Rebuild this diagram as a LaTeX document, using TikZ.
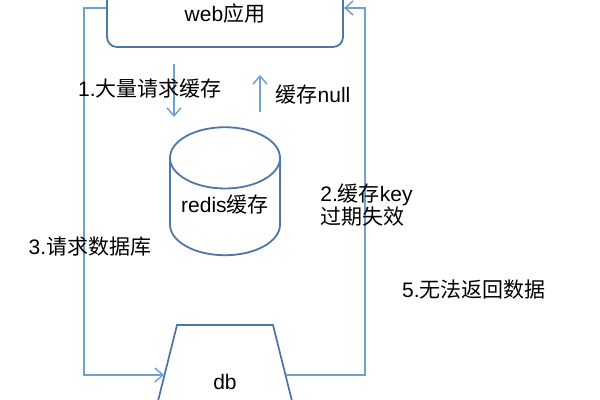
\documentclass[tikz,border=0pt]{standalone}
\usepackage{fontspec}
\setmainfont{Liberation Sans}
\newfontfamily\cjk{Noto Sans CJK SC}
\usetikzlibrary{shapes.geometric,arrows.meta}
\definecolor{linkBlue}{RGB}{112,160,206}
\definecolor{shapeBlue}{RGB}{78,118,168}
\newcommand{\zh}[1]{{\cjk #1}}

\begin{document}
\begin{tikzpicture}[x=0.5pt,y=-0.5pt,
        lbl/.style={font=\fontsize{10.5}{11.5}\selectfont, inner sep=0pt},
        app/.style={draw=shapeBlue, line width=0.9pt, rounded corners=5pt,
                    minimum width=118pt, minimum height=33.5pt, inner sep=0pt},
        store/.style={draw=shapeBlue, line width=0.9pt, cylinder, shape border rotate=90,
                      aspect=0.7, minimum width=55pt, minimum height=64pt, inner sep=0pt},
        dbline/.style={draw=shapeBlue, line width=0.9pt},
        link/.style={draw=linkBlue, line width=0.75pt, -{Straight Barb[length=4pt,width=7pt]}}
      ]
        \useasboundingbox (0,0) rectangle (600,400);
        \clip (0,0) rectangle (600,400);
        % TOP: web app and cache
        \node[app, lbl] (web) at (225,13.5) {web\zh{应用}};
        \node[store, lbl] (redis) at (225,207) {\raisebox{3.5pt}{redis\zh{缓存}}};
        % BOTTOM: db
        \draw[dbline] (152,425) -- (177,325) -- (273,325) -- (298,425);
        \node[lbl] (db) at (225,382) {db};
        \coordinate (dbw) at (164,375);
        \coordinate (dbe) at (286,375);
        % cache request / null reply
        \coordinate (reqs) at (174,64);
        \coordinate (reqe) at (174,117);
        \coordinate (nulls) at (260,112);
        \coordinate (nulle) at (260,75);
        \draw[link] (reqs) -- (reqe);
        \draw[link] (nulls) -- (nulle);
        % side paths through the db
        \coordinate (lbend) at (84,8);
        \coordinate (rbend) at (365,8);
        \draw[link] (web.west |- lbend) -- (lbend) |- (dbw);
        \draw[link] (dbe) -| (rbend) -- (web.east |- rbend);
        % labels
        \node[lbl] (l1) at (150,89) {1.\zh{大量请求缓存}};
        \node[lbl] (l4) at (313,95) {\zh{缓存}null};
        \node[lbl, anchor=west, align=left] (l2) at (320,205) {2.\zh{缓存}key\\\zh{过期失效}};
        \node[lbl] (l3) at (90,247) {3.\zh{请求数据库}};
        \node[lbl] (l5) at (474,290) {5.\zh{无法返回数据}};
      \end{tikzpicture}
\end{document}
